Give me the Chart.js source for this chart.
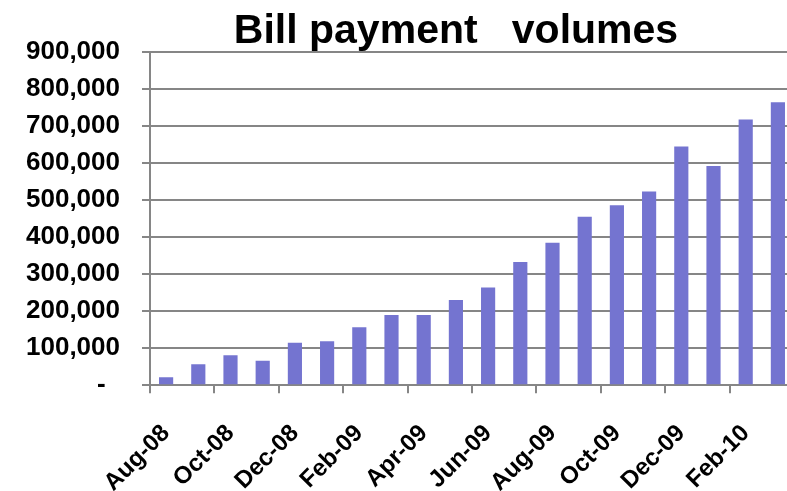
<!DOCTYPE html>
<html>
<head>
<meta charset="utf-8">
<script src="https://cdn.jsdelivr.net/npm/chart.js@4/dist/chart.umd.min.js"></script>
<style>
  html, body { margin: 0; padding: 0; background: #fff; overflow: hidden; }
  #wrap { width: 787px; height: 491px; overflow: hidden; }
</style>
</head>
<body>
<div id="wrap"><canvas id="billChart" width="800" height="491"></canvas></div>
<script>
// Meses (uno por barra)
const months = ["Aug-08", "Sep-08", "Oct-08", "Nov-08", "Dec-08", "Jan-09", "Feb-09", "Mar-09",
    "Apr-09", "May-09", "Jun-09", "Jul-09", "Aug-09", "Sep-09", "Oct-09", "Nov-09",
    "Dec-09", "Jan-10", "Feb-10", "Mar-10"];

// Volúmenes
const volumes = [22000, 57000, 81000, 66000, 115000, 119000, 157000, 190000,
    190000, 230000, 264000, 333000, 385000, 455000, 486000, 523000,
    645000, 592000, 718000, 764000];

const yTicks = [0, 100000, 200000, 300000, 400000, 500000, 600000, 700000, 800000, 900000];

const titleText = "Bill payment   volumes";
const barColor = "#7474D0";
const gridColor = "#868686";
const font = "'Liberation Sans', Arial, sans-serif";

// Título dibujado a mano (centrado como en la imagen)
const titlePlugin = {
    id: "titlePlugin",
    afterDraw(chart) {
        const c = chart.ctx;
        c.save();
        c.font = "bold 41px " + font;
        c.fillStyle = "#000";
        c.textAlign = "center";
        c.textBaseline = "alphabetic";
        c.fillText(titleText, 456, 43);
        c.restore();
    }
};

new Chart(document.getElementById("billChart").getContext("2d"), {
    type: "bar",
    data: {
        labels: months,
        datasets: [{
            data: volumes,
            backgroundColor: barColor,
            borderWidth: 0,
            categoryPercentage: 1,
            barPercentage: 0.44,
        }],
    },
    options: {
        responsive: false,
        animation: false,
        layout: { padding: { top: 52, right: 6, left: 0, bottom: 0 } },
        plugins: {
            legend: { display: false },
            tooltip: { enabled: false },
        },
        scales: {
            x: {
                offset: true,
                grid: {
                    offset: true,
                    drawOnChartArea: false,
                    tickLength: 8,
                    lineWidth: 2,
                    color: ctx => (ctx.index % 2 === 0 ? gridColor : "rgba(0,0,0,0)"),
                },
                border: { display: true, color: gridColor, width: 2 },
                ticks: {
                    autoSkip: false,
                    maxRotation: 45,
                    minRotation: 45,
                    padding: 26,
                    color: "#000",
                    font: { family: font, size: 24, weight: "bold" },
                    callback: (v, i) => (i % 2 === 0 ? months[i] : ""),
                },
                afterFit: scale => {
                    scale.height = 105.7;
                    scale.paddingLeft = 0;
                    scale.paddingRight = 0;
                },
            },
            y: {
                min: 0,
                max: 900000,
                afterBuildTicks: scale => { scale.ticks = yTicks.map(v => ({ value: v })); },
                grid: { color: gridColor, lineWidth: 2, tickLength: 8 },
                border: { display: true, color: gridColor, width: 2 },
                ticks: {
                    padding: 22,
                    color: "#000",
                    font: { family: font, size: 26, weight: "bold" },
                    // formato contable: el cero se muestra como guion
                    callback: v => (v === 0 ? "-  " : v.toLocaleString("en-US")),
                },
                afterFit: scale => { scale.width = 150; },
            },
        },
    },
    plugins: [titlePlugin],
});
</script>
</body>
</html>
